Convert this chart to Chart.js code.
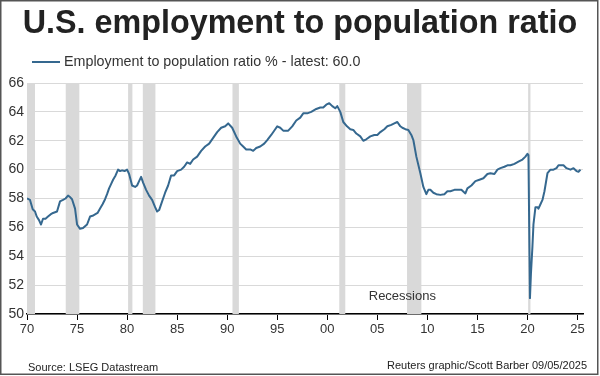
<!DOCTYPE html>
<html>
<head>
<meta charset="utf-8">
<script src="https://cdn.jsdelivr.net/npm/chart.js@4/dist/chart.umd.min.js"></script>
<style>
  html, body { margin: 0; padding: 0; background: #fff; }
  #wrap { width: 600px; height: 376px; position: relative; }
</style>
</head>
<body>
<div id="wrap"><canvas id="empChart" width="600" height="376"></canvas></div>
<script>
// decimal year / ratio %
const DATES = [
  1970.0, 1970.3, 1970.57, 1970.8, 1970.97, 1971.2, 1971.4, 1971.6, 1971.85, 1972.1, 1972.35, 1972.6, 1973.0, 1973.3, 1973.6, 1973.85, 1974.1, 1974.3, 1974.5, 1974.8, 1975.0, 1975.3, 1975.6, 1976.0, 1976.3, 1976.55, 1976.8, 1977.05, 1977.3, 1977.55, 1977.8, 1978.0, 1978.2, 1978.4, 1978.6, 1978.85, 1979.1, 1979.3, 1979.5, 1979.75, 1980.0,
  1980.2, 1980.5, 1980.8, 1981.0, 1981.2, 1981.4, 1981.6, 1981.9, 1982.2, 1982.5, 1982.8, 1983.0, 1983.2, 1983.5, 1983.8, 1984.1, 1984.4, 1984.7, 1985.0, 1985.4, 1985.7, 1986.0, 1986.3, 1986.6, 1987.0, 1987.4, 1987.8, 1988.2, 1988.6, 1989.0, 1989.4, 1989.8,
  1990.1, 1990.5, 1990.9, 1991.3, 1991.6, 1991.9, 1992.3, 1992.6, 1992.9, 1993.3, 1993.7, 1994.0, 1994.4, 1994.8, 1995.0, 1995.3, 1995.6, 1996.1, 1996.5, 1996.9, 1997.3, 1997.6, 1998.0, 1998.4, 1998.9, 1999.3, 1999.6, 1999.9,
  2000.2, 2000.5, 2000.8, 2001.0, 2001.3, 2001.6, 2001.97, 2002.3, 2002.6, 2002.9, 2003.3, 2003.6, 2003.9, 2004.3, 2004.7, 2005.0, 2005.3, 2005.7, 2006.0, 2006.4, 2006.7, 2007.0, 2007.3, 2007.5, 2007.8, 2008.1, 2008.4, 2008.6, 2008.9, 2009.3, 2009.6, 2009.9,
  2010.1, 2010.3, 2010.6, 2010.9, 2011.3, 2011.7, 2012.0, 2012.3, 2012.7, 2013.0, 2013.4, 2013.8, 2014.0, 2014.4, 2014.8, 2015.2, 2015.6, 2016.0, 2016.3, 2016.7, 2017.0, 2017.3, 2017.7, 2018.0, 2018.3, 2018.7, 2019.1, 2019.5, 2019.8,
  2020.0, 2020.1, 2020.25, 2020.35, 2020.5, 2020.6, 2020.8, 2021.0, 2021.1, 2021.3, 2021.5, 2021.7, 2022.0, 2022.3, 2022.6, 2022.9, 2023.1, 2023.4, 2023.6, 2023.9, 2024.3, 2024.6, 2024.9, 2025.1, 2025.3
];
const RATIO = [
  58.0, 57.9, 57.25, 57.1, 56.75, 56.5, 56.2, 56.6, 56.6, 56.75, 56.9, 57.0, 57.1, 57.8, 57.9, 58.0, 58.2, 58.1, 57.95, 57.3, 56.2, 55.9, 55.95, 56.2, 56.75, 56.8, 56.9, 57.0, 57.3, 57.6, 57.95, 58.3, 58.7, 59.0, 59.3, 59.6, 60.0, 59.9, 59.95, 59.9, 60.0,
  59.7, 58.9, 58.8, 58.9, 59.2, 59.5, 59.1, 58.6, 58.2, 57.9, 57.4, 57.1, 57.2, 57.8, 58.4, 58.9, 59.6, 59.6, 59.9, 60.0, 60.2, 60.5, 60.4, 60.7, 60.9, 61.3, 61.6, 61.8, 62.2, 62.6, 62.9, 63.0,
  63.2, 62.9, 62.3, 61.8, 61.6, 61.4, 61.4, 61.3, 61.5, 61.6, 61.8, 62.05, 62.4, 62.8, 63.0, 62.9, 62.7, 62.7, 63.0, 63.4, 63.6, 63.9, 63.9, 64.0, 64.2, 64.3, 64.3, 64.5,
  64.6, 64.4, 64.25, 64.4, 64.0, 63.3, 63.0, 62.8, 62.75, 62.5, 62.3, 62.0, 62.1, 62.3, 62.4, 62.4, 62.6, 62.8, 63.0, 63.1, 63.2, 63.3, 63.0, 62.9, 62.8, 62.75, 62.4, 62.05, 60.9, 59.75, 58.8, 58.3,
  58.6, 58.6, 58.4, 58.3, 58.25, 58.3, 58.5, 58.5, 58.6, 58.6, 58.6, 58.35, 58.7, 58.9, 59.2, 59.3, 59.4, 59.7, 59.75, 59.7, 60.0, 60.1, 60.2, 60.3, 60.3, 60.4, 60.55, 60.7, 60.9,
  61.1, 61.0, 51.1, 52.8, 54.7, 56.2, 57.4, 57.4, 57.3, 57.6, 57.9, 58.5, 59.75, 60.0, 60.0, 60.1, 60.3, 60.3, 60.3, 60.1, 60.0, 60.1, 59.9, 59.85, 60.0
];

// recession shading (start / end, decimal years)
const REC_START = [1970.0, 1973.87, 1980.1, 1981.57, 1990.53, 2001.2, 2007.97, 2020.07];
const REC_END = [1970.8, 1975.23, 1980.53, 1982.83, 1991.17, 2001.8, 2009.4, 2020.3];

const X_TICKS = [1970, 1975, 1980, 1985, 1990, 1995, 2000, 2005, 2010, 2015, 2020, 2025];

const LINE_COLOR = '#35688f';
const FONT = 'Liberation Sans, Arial, sans-serif';

const recessionPlugin = {
  id: 'recessions',
  beforeDatasetsDraw(chart) {
    const { ctx, chartArea, scales } = chart;
    ctx.save();
    ctx.beginPath();
    ctx.rect(chartArea.left, chartArea.top, chartArea.right - chartArea.left, chartArea.bottom - chartArea.top);
    ctx.clip();
    ctx.fillStyle = '#d9d9d9';
    for (let i = 0; i < REC_START.length; i++) {
      const x1 = scales.x.getPixelForValue(REC_START[i]);
      const x2 = scales.x.getPixelForValue(REC_END[i]);
      ctx.fillRect(x1, chartArea.top, Math.max(x2 - x1, 2), chartArea.bottom - chartArea.top);
    }
    ctx.restore();
    // label
    ctx.save();
    ctx.font = '13px ' + FONT;
    ctx.fillStyle = '#333';
    ctx.textAlign = 'center';
    ctx.textBaseline = 'alphabetic';
    ctx.fillText('Recessions', scales.x.getPixelForValue(2007.5), 300);
    ctx.restore();
  }
};

const decorPlugin = {
  id: 'decor',
  afterDraw(chart) {
    const ctx = chart.ctx;
    ctx.save();
    // title
    ctx.fillStyle = '#222';
    ctx.font = 'bold 32.3px ' + FONT;
    ctx.textAlign = 'center';
    ctx.textBaseline = 'alphabetic';
    ctx.fillText('U.S. employment to population ratio', 300, 33);
    // legend
    ctx.strokeStyle = LINE_COLOR;
    ctx.lineWidth = 2;
    ctx.beginPath();
    ctx.moveTo(32, 62);
    ctx.lineTo(60, 62);
    ctx.stroke();
    ctx.fillStyle = '#333';
    ctx.font = '14.3px ' + FONT;
    ctx.textAlign = 'left';
    ctx.textBaseline = 'middle';
    ctx.fillText('Employment to population ratio % - latest: 60.0', 64, 62);
    // footer
    ctx.font = '11px ' + FONT;
    ctx.textBaseline = 'alphabetic';
    ctx.fillStyle = '#222';
    ctx.fillText('Source: LSEG Datastream', 28, 371);
    ctx.textAlign = 'right';
    ctx.fillText('Reuters graphic/Scott Barber 09/05/2025', 587, 369);
    // frame
    ctx.strokeStyle = '#555';
    ctx.lineWidth = 1.5;
    ctx.strokeRect(0.75, 0.75, 597, 373.5);
    ctx.restore();
  }
};

new Chart(document.getElementById('empChart'), {
  type: 'line',
  data: {
    datasets: [{
      label: 'Employment to population ratio % - latest: 60.0',
      data: DATES.map((d, i) => ({ x: d, y: RATIO[i] })),
      borderColor: LINE_COLOR,
      borderWidth: 2,
      pointRadius: 0,
      tension: 0,
      borderJoinStyle: 'round'
    }]
  },
  options: {
    responsive: false,
    animation: false,
    layout: { padding: { top: 83, left: 0, right: 17, bottom: 38 } },
    plugins: {
      legend: { display: false },
      tooltip: { enabled: false }
    },
    scales: {
      x: {
        type: 'linear',
        min: 1970,
        max: 2025.55,
        afterBuildTicks: (scale) => {
          scale.ticks = X_TICKS.map(v => ({ value: v }));
        },
        afterFit: (scale) => { scale.height = 24; },
        ticks: {
          color: '#333',
          font: { family: FONT, size: 13 },
          padding: 2,
          maxRotation: 0,
          autoSkip: false,
          callback: (v) => String(v % 100).padStart(2, '0')
        },
        grid: { drawOnChartArea: false, color: '#000', tickLength: 6, lineWidth: 1 },
        border: { display: true, color: '#000', width: 1.5 }
      },
      y: {
        min: 50,
        max: 66,
        afterFit: (scale) => { scale.width = 27; },
        ticks: {
          stepSize: 2,
          color: '#333',
          font: { family: FONT, size: 14 },
          padding: 3
        },
        grid: { color: '#d9d9d9', drawTicks: false, lineWidth: 1 },
        border: { display: false }
      }
    }
  },
  plugins: [recessionPlugin, decorPlugin]
});
</script>
</body>
</html>
